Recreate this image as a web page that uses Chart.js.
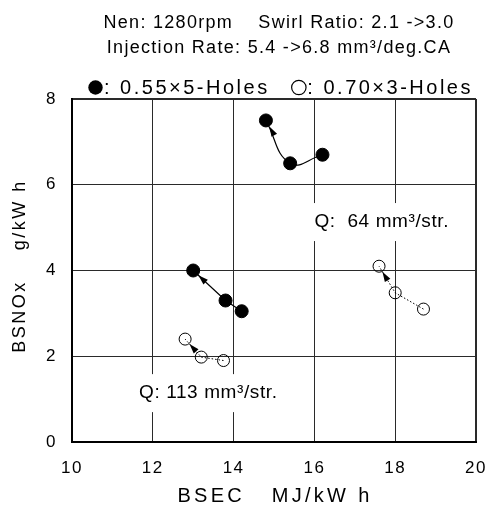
<!DOCTYPE html>
<html>
<head>
<meta charset="utf-8">
<script src="https://cdn.jsdelivr.net/npm/chart.js@4.4.1/dist/chart.umd.min.js"></script>
<style>
  html, body { margin: 0; padding: 0; background: #fff; }
  #wrap { width: 488px; height: 505px; position: relative; }
</style>
</head>
<body>
<div id="wrap"><canvas id="nox"></canvas></div>
<script>
// BSEC (MJ/kWh) vs BSNOx (g/kWh), swirl ratio 2.1 -> 3.0 along each run
const bsecHoles5Q64  = [16.2, 15.4, 14.8];
const noxHoles5Q64   = [6.7, 6.5, 7.5];
const bsecHoles5Q113 = [14.2, 13.8, 13.0];
const noxHoles5Q113  = [3.05, 3.3, 4.0];
const bsecHoles3Q64  = [18.7, 18.0, 17.6];
const noxHoles3Q64   = [3.1, 3.48, 4.1];
const bsecHoles3Q113 = [13.75, 13.2, 12.8];
const noxHoles3Q113  = [1.9, 1.98, 2.4];

const nozzleLabels = ['0.55\u00d75-Holes', '0.70\u00d73-Holes'];
const headerLines = ['Nen: 1280rpm    Swirl Ratio: 2.1 ->3.0', 'Injection Rate: 5.4 ->6.8 mm\u00b3/deg.CA'];
const qLabels = ['Q:  64 mm\u00b3/str.', 'Q: 113 mm\u00b3/str.'];
const xTicks = [10, 12, 14, 16, 18, 20];
const yTicks = [0, 2, 4, 6, 8];

const FONT = 'Arial, "Liberation Sans", sans-serif';

function toPoints(xs, ys) {
    return xs.map((x, i) => ({ x: x, y: ys[i] }));
}

function filledRun(label, xs, ys, tension) {
    return {
        label: label,
        data: toPoints(xs, ys),
        showLine: true,
        tension: tension,
        borderColor: '#000',
        borderWidth: 1.2,
        pointRadius: 6.5,
        pointBorderWidth: 1,
        pointBorderColor: '#000',
        pointBackgroundColor: '#000',
        filledMark: true,
    };
}

function openRun(label, xs, ys) {
    return {
        label: label,
        data: toPoints(xs, ys),
        showLine: true,
        tension: 0,
        borderColor: '#000',
        borderWidth: 1,
        borderDash: [1.5, 2],
        pointRadius: 6,
        pointBorderWidth: 1,
        pointBorderColor: '#000',
        pointBackgroundColor: 'rgba(0,0,0,0)',
        filledMark: false,
    };
}

// labels for the two injection quantities, placed in data units
const notes = [
    { text: qLabels[0], x: 16.0, y: 5.13 },
    { text: qLabels[1], x: 11.66, y: 1.14 },
];

const qNotes = {
    id: 'qNotes',
    beforeDatasetsDraw(chart) {
        const ctx = chart.ctx;
        const xs = chart.scales.x, ys = chart.scales.y;
        ctx.save();
        ctx.font = '19px ' + FONT;
        ctx.letterSpacing = '0.6px';
        ctx.textBaseline = 'middle';
        ctx.textAlign = 'left';
        notes.forEach(n => {
            const px = xs.getPixelForValue(n.x);
            const py = ys.getPixelForValue(n.y);
            const w = ctx.measureText(n.text).width;
            ctx.fillStyle = '#fff';
            ctx.fillRect(px - 4, py - 19, w + 8, 38);
            ctx.fillStyle = '#000';
            ctx.fillText(n.text, px, py);
        });
        ctx.restore();
    }
};

// arrow head on the last point of each run
const arrowHeads = {
    id: 'arrowHeads',
    afterDatasetsDraw(chart) {
        const ctx = chart.ctx;
        chart.data.datasets.forEach((ds, i) => {
            const pts = chart.getDatasetMeta(i).data;
            const end = pts[pts.length - 1];
            let fx = pts[pts.length - 2].x, fy = pts[pts.length - 2].y;
            if (end.cp1x !== undefined && Math.hypot(end.cp1x - end.x, end.cp1y - end.y) > 2) {
                fx = end.cp1x; fy = end.cp1y;
            }
            const ang = Math.atan2(end.y - fy, end.x - fx);
            const r = ds.pointRadius + 0.5;
            const tx = end.x - Math.cos(ang) * r;
            const ty = end.y - Math.sin(ang) * r;
            const len = 10, half = 3.2;
            const bx = tx - Math.cos(ang) * len;
            const by = ty - Math.sin(ang) * len;
            ctx.save();
            ctx.fillStyle = '#000';
            ctx.beginPath();
            ctx.moveTo(tx, ty);
            ctx.lineTo(bx + Math.sin(ang) * half, by - Math.cos(ang) * half);
            ctx.lineTo(bx - Math.sin(ang) * half, by + Math.cos(ang) * half);
            ctx.closePath();
            ctx.fill();
            ctx.restore();
        });
    }
};

// spaced-out lettering for tick labels
const tickSpacing = {
    id: 'tickSpacing',
    beforeDraw(chart) { chart.ctx.letterSpacing = '1.5px'; },
    afterDraw(chart) { chart.ctx.letterSpacing = '0px'; }
};

// header lines, marker key and axis titles
const frameText = {
    id: 'frameText',
    afterDraw(chart) {
        const ctx = chart.ctx;
        const area = chart.chartArea;
        ctx.save();
        ctx.fillStyle = '#000';
        ctx.strokeStyle = '#000';

        ctx.font = '18px ' + FONT;
        ctx.letterSpacing = '1.3px';
        ctx.textAlign = 'center';
        ctx.textBaseline = 'alphabetic';
        ctx.fillText(headerLines[0], 279, 28);
        ctx.fillText(headerLines[1], 279, 53);

        // marker key
        ctx.font = '20px ' + FONT;
        ctx.letterSpacing = '2.5px';
        ctx.textAlign = 'left';
        let kx = 95.5;
        const ky = 87.5;
        chart.data.datasets.filter((d, i, arr) => arr.findIndex(o => o.label === d.label) === i)
            .forEach(ds => {
                ctx.beginPath();
                ctx.arc(kx, ky, 7.2, 0, Math.PI * 2);
                if (ds.filledMark) {
                    ctx.fill();
                } else {
                    ctx.lineWidth = 1.2;
                    ctx.stroke();
                }
                const txt = ': ' + ds.label;
                ctx.fillText(txt, kx + 8.5, 93.5);
                kx = kx + 8.5 + ctx.measureText(txt).width + 22 + 7.2;
            });

        // axis titles
        ctx.font = '20px ' + FONT;
        ctx.letterSpacing = '3.3px';
        ctx.textAlign = 'center';
        ctx.fillText('BSEC   MJ/kW h', (area.left + area.right) / 2 + 1, 502);

        ctx.translate(25, 266);
        ctx.rotate(-Math.PI / 2);
        ctx.font = '18px ' + FONT;
        ctx.letterSpacing = '2.5px';
        ctx.fillText('BSNOx    g/kW h', 0, 0);
        ctx.restore();
    }
};

const ctx = document.getElementById('nox').getContext('2d');

new Chart(ctx, {
    type: 'scatter',
    data: {
        datasets: [
            filledRun(nozzleLabels[0], bsecHoles5Q64, noxHoles5Q64, 0.45),
            filledRun(nozzleLabels[0], bsecHoles5Q113, noxHoles5Q113, 0),
            openRun(nozzleLabels[1], bsecHoles3Q64, noxHoles3Q64),
            openRun(nozzleLabels[1], bsecHoles3Q113, noxHoles3Q113),
        ],
    },
    options: {
        responsive: true,
        maintainAspectRatio: false,
        animation: false,
        layout: { padding: { left: 0, top: 99, right: 12, bottom: 0 } },
        plugins: {
            legend: { display: false },
            title: { display: false },
            tooltip: { enabled: false },
        },
        scales: {
            x: {
                type: 'linear',
                min: xTicks[0],
                max: xTicks[xTicks.length - 1],
                afterBuildTicks: s => { s.ticks = xTicks.map(v => ({ value: v })); },
                afterFit: s => {
                    s.height = 63;
                    s.paddingLeft = 0;
                    s.paddingRight = 0;
                },
                border: { display: true, width: 2, color: '#000' },
                grid: {
                    color: '#2a2a2a',
                    lineWidth: c => (c.tick && c.tick.value === xTicks[xTicks.length - 1]) ? 2 : 1,
                    drawTicks: false,
                },
                ticks: {
                    color: '#000',
                    padding: 16,
                    font: { family: FONT, size: 17 },
                },
            },
            y: {
                type: 'linear',
                min: yTicks[0],
                max: yTicks[yTicks.length - 1],
                afterBuildTicks: s => { s.ticks = yTicks.map(v => ({ value: v })); },
                afterFit: s => {
                    s.width = 72;
                    s.paddingTop = 0;
                    s.paddingBottom = 0;
                },
                border: { display: true, width: 2, color: '#000' },
                grid: {
                    color: '#2a2a2a',
                    lineWidth: c => (c.tick && c.tick.value === yTicks[yTicks.length - 1]) ? 2 : 1,
                    drawTicks: false,
                },
                ticks: {
                    color: '#000',
                    padding: 15,
                    font: { family: FONT, size: 17 },
                },
            },
        },
    },
    plugins: [tickSpacing, qNotes, arrowHeads, frameText],
});
</script>
</body>
</html>
